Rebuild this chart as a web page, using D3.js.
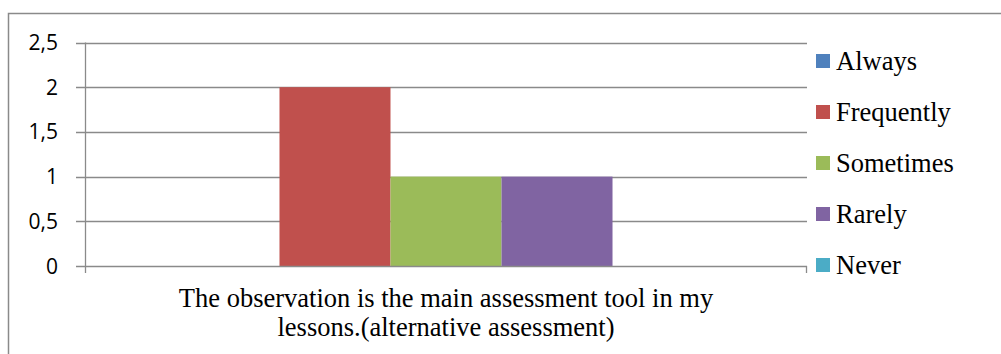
<!DOCTYPE html>
<html>
<head>
<meta charset="utf-8">
<script src="https://cdn.jsdelivr.net/npm/d3@7"></script>
<style>
  html, body { margin: 0; padding: 0; background: #fff; }
  svg { display: block; }
  .serif { font-family: "Liberation Serif", "Times New Roman", serif; }
  .sans { font-family: "Open Sans", sans-serif; }
</style>
</head>
<body>
<svg id="chart" width="1001" height="354"></svg>
<script>
// Survey item and response counts
const categories = ["The observation is the main assessment tool in my lessons.(alternative assessment)"];
const categoryLines = ["The observation is the main assessment tool in my", "lessons.(alternative assessment)"];
const seriesNames = ["Always", "Frequently", "Sometimes", "Rarely", "Never"];
const seriesValues = [0, 2, 1, 1, 0];
const seriesColors = ["#4F81BD", "#C0504D", "#9BBB59", "#8064A2", "#4BACC6"];
const yTicks = [0, 0.5, 1, 1.5, 2, 2.5];

const svg = d3.select("#chart");
const gridColor = "#8a8a8a";

// Outer chart frame (top and left edges visible)
svg.append("path")
  .attr("d", "M8.5,354 V13.5 H1001")
  .attr("fill", "none")
  .attr("stroke", gridColor)
  .attr("stroke-width", 1.5);

const plot = { left: 85, right: 807, top: 42.5, bottom: 266 };

const y = d3.scaleLinear().domain([0, 2.5]).range([plot.bottom, plot.top]);
const x0 = d3.scaleBand().domain(categories).range([plot.left, plot.right]).paddingInner(0).paddingOuter(0);
const x1 = d3.scaleBand().domain(seriesNames).range([0, x0.bandwidth()]).paddingOuter(0.752).paddingInner(0);

// Horizontal gridlines
svg.append("g")
  .selectAll("line")
  .data(yTicks.filter(t => t > 0))
  .join("line")
  .attr("x1", plot.left - 9)
  .attr("x2", plot.right)
  .attr("y1", d => Math.round(y(d)) + 0.5)
  .attr("y2", d => Math.round(y(d)) + 0.5)
  .attr("stroke", gridColor)
  .attr("stroke-width", 1.3);

// Bars
svg.append("g")
  .selectAll("rect")
  .data(seriesNames.map((s, i) => ({ s, v: seriesValues[i], c: seriesColors[i] })))
  .join("rect")
  .attr("x", d => x0(categories[0]) + x1(d.s))
  .attr("width", x1.bandwidth())
  .attr("y", d => y(d.v))
  .attr("height", d => y(0) - y(d.v))
  .attr("fill", d => d.c);

// Y axis line
svg.append("line")
  .attr("x1", plot.left + 0.5).attr("x2", plot.left + 0.5)
  .attr("y1", plot.top).attr("y2", plot.bottom + 7)
  .attr("stroke", gridColor).attr("stroke-width", 1.3);

// X axis baseline with category boundary ticks
svg.append("line")
  .attr("x1", plot.left - 9).attr("x2", plot.right)
  .attr("y1", Math.round(y(0)) + 0.5).attr("y2", Math.round(y(0)) + 0.5)
  .attr("stroke", gridColor).attr("stroke-width", 1.5);
svg.append("line")
  .attr("x1", plot.right - 0.5).attr("x2", plot.right - 0.5)
  .attr("y1", y(0)).attr("y2", plot.bottom + 7)
  .attr("stroke", gridColor).attr("stroke-width", 1.3);

// Y tick labels
svg.append("g")
  .selectAll("text")
  .data(yTicks)
  .join("text")
  .attr("class", "sans")
  .attr("x", 58)
  .attr("y", d => y(d))
  .attr("dy", "0.36em")
  .attr("text-anchor", "end")
  .style("font-size", "21px")
  .attr("fill", "#000")
  .text(d => d3.format(".1~f")(d).replace(".", ","));

// Category label
const catX = x0(categories[0]) + x0.bandwidth() / 2;
const catText = svg.append("text")
  .attr("class", "serif")
  .attr("text-anchor", "middle")
  .style("font-size", "26.5px")
  .attr("fill", "#000");
catText.selectAll("tspan")
  .data(categoryLines)
  .join("tspan")
  .attr("x", catX)
  .attr("y", (d, i) => 307 + i * 29)
  .text(d => d);

// Legend
const legend = svg.append("g")
  .selectAll("g")
  .data(seriesNames.map((s, i) => ({ s, c: seriesColors[i] })))
  .join("g")
  .attr("transform", (d, i) => `translate(816, ${61 + i * 51})`);
legend.append("rect")
  .attr("x", 0).attr("y", -7).attr("width", 14).attr("height", 14)
  .attr("fill", d => d.c);
legend.append("text")
  .attr("class", "serif")
  .attr("x", 20)
  .attr("y", 0)
  .attr("dy", "0.33em")
  .style("font-size", "26.5px")
  .attr("fill", "#000")
  .text(d => d.s);
</script>
</body>
</html>
